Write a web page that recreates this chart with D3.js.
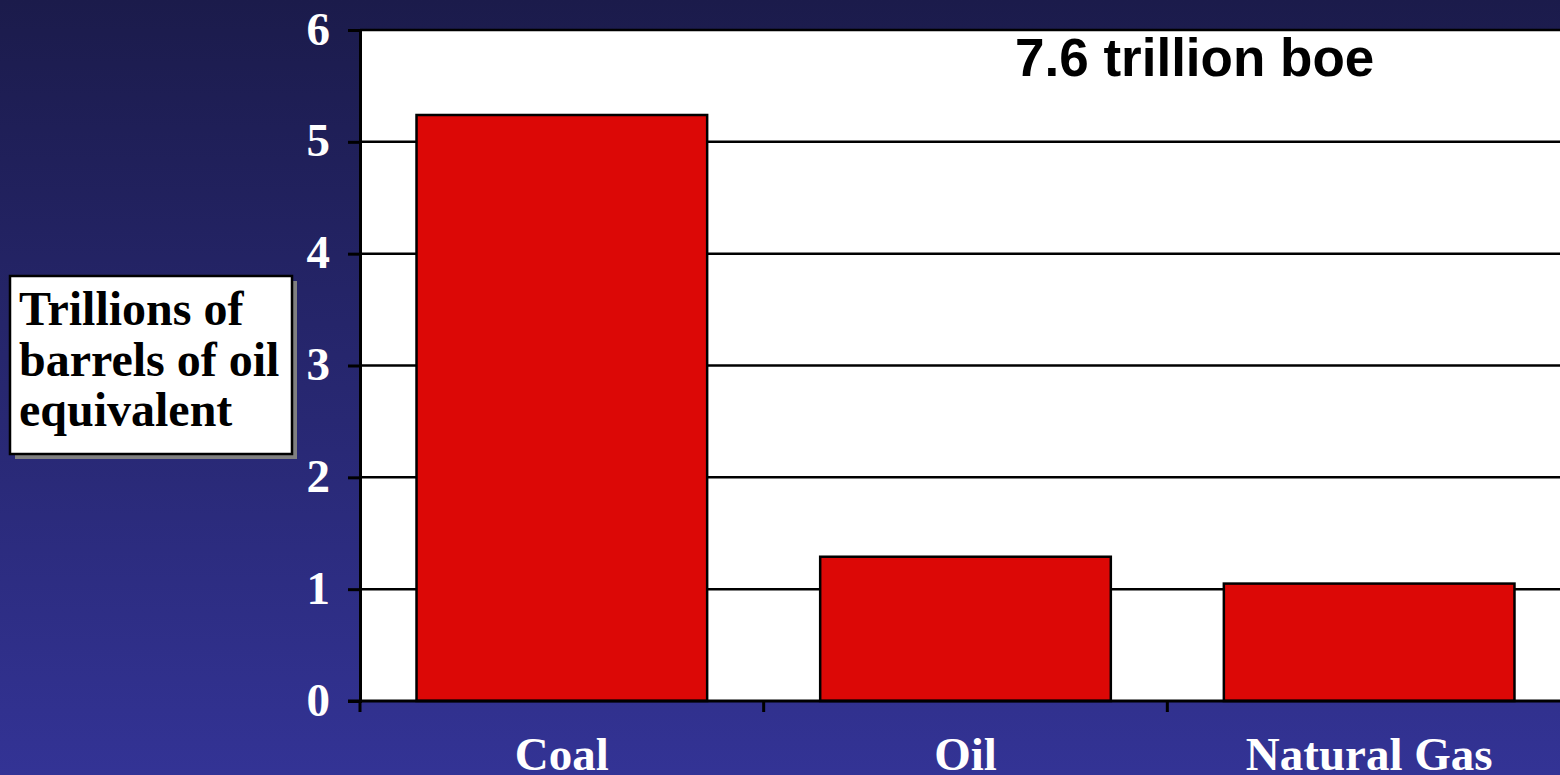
<!DOCTYPE html>
<html>
<head>
<meta charset="utf-8">
<script src="https://cdn.jsdelivr.net/npm/d3@7"></script>
<style>
  html, body { margin: 0; padding: 0; overflow: hidden; background: #262666; }
  svg { display: block; }
</style>
</head>
<body>
<svg id="chart" width="1560" height="775"></svg>
<script>
// Fossil fuel resources, trillions of barrels of oil equivalent
const categories = ["Coal", "Oil", "Natural Gas"];
const values = [5.24, 1.29, 1.05];
const yTicks = [0, 1, 2, 3, 4, 5, 6];
const unitLines = ["Trillions of", "barrels of oil", "equivalent"];
const totalNote = "7.6 trillion boe";

const svg = d3.select("#chart");
const W = 1560, H = 775;
const plot = { left: 360, right: 1571, top: 30, bottom: 701 };

// background: vertical navy-to-indigo gradient
const defs = svg.append("defs");
const grad = defs.append("linearGradient")
  .attr("id", "bg").attr("x1", 0).attr("y1", 0).attr("x2", 0).attr("y2", 1);
grad.append("stop").attr("offset", "0%").attr("stop-color", "#1b1b4b");
grad.append("stop").attr("offset", "100%").attr("stop-color", "#333395");
svg.append("rect").attr("width", W).attr("height", H).attr("fill", "url(#bg)");

const x = d3.scaleBand()
  .domain(categories)
  .range([plot.left, plot.right])
  .paddingInner(0.28)
  .paddingOuter(0.14);

const y = d3.scaleLinear()
  .domain([0, 6])
  .range([plot.bottom, plot.top]);

// plot area
svg.append("rect")
  .attr("x", plot.left).attr("y", plot.top)
  .attr("width", plot.right - plot.left).attr("height", plot.bottom - plot.top)
  .attr("fill", "#ffffff");

// horizontal gridlines
svg.append("g")
  .selectAll("line")
  .data(yTicks.filter(d => d > 0))
  .join("line")
  .attr("x1", plot.left).attr("x2", plot.right)
  .attr("y1", d => y(d)).attr("y2", d => y(d))
  .attr("stroke", "#000").attr("stroke-width", 2.5);

// bars
svg.append("g")
  .selectAll("rect")
  .data(categories.map((c, i) => ({ c, v: values[i] })))
  .join("rect")
  .attr("x", d => x(d.c))
  .attr("y", d => y(d.v))
  .attr("width", x.bandwidth())
  .attr("height", d => y(0) - y(d.v))
  .attr("fill", "#dc0806")
  .attr("stroke", "#000")
  .attr("stroke-width", 2.5);

// y axis
const yAxis = svg.append("g")
  .attr("transform", `translate(${plot.left},0)`)
  .call(d3.axisLeft(y).tickValues(yTicks).tickFormat(d3.format("d")).tickSize(12).tickPadding(18));
yAxis.select(".domain").attr("stroke", "#000").attr("stroke-width", 3);
yAxis.selectAll(".tick line").attr("stroke", "#000").attr("stroke-width", 3);
yAxis.selectAll(".tick text")
  .attr("fill", "#ffffff")
  .attr("dy", "0.3em")
  .style("font-family", "'Liberation Serif', 'Times New Roman', serif")
  .style("font-weight", "bold")
  .style("font-size", "47px");

// x axis: labels centred on bars, ticks on band boundaries
const xAxis = svg.append("g")
  .attr("transform", `translate(0,${plot.bottom})`)
  .call(d3.axisBottom(x).tickSize(0).tickPadding(0));
xAxis.select(".domain").remove();
xAxis.selectAll(".tick text")
  .attr("y", 69)
  .attr("dy", 0)
  .attr("fill", "#ffffff")
  .style("font-family", "'Liberation Serif', 'Times New Roman', serif")
  .style("font-weight", "bold")
  .style("font-size", "47px");

const boundary = d => x(d) - x.step() * x.paddingOuter();
svg.append("line")
  .attr("x1", plot.left - 12).attr("x2", plot.right)
  .attr("y1", plot.bottom).attr("y2", plot.bottom)
  .attr("stroke", "#000").attr("stroke-width", 3);
svg.append("g")
  .selectAll("line")
  .data(categories)
  .join("line")
  .attr("x1", d => boundary(d)).attr("x2", d => boundary(d))
  .attr("y1", plot.bottom).attr("y2", plot.bottom + 11)
  .attr("stroke", "#000").attr("stroke-width", 3);

// total annotation
svg.append("text")
  .attr("x", 1015).attr("y", 76)
  .attr("fill", "#000")
  .style("font-family", "'Liberation Sans', Arial, sans-serif")
  .style("font-weight", "bold")
  .style("font-size", "53px")
  .text(totalNote);

// unit label box with drop shadow
const box = { x: 10, y: 276, w: 282, h: 178 };
svg.append("rect")
  .attr("x", box.x + 5).attr("y", box.y + 5)
  .attr("width", box.w).attr("height", box.h)
  .attr("fill", "#808080");
svg.append("rect")
  .attr("x", box.x).attr("y", box.y)
  .attr("width", box.w).attr("height", box.h)
  .attr("fill", "#ffffff")
  .attr("stroke", "#000").attr("stroke-width", 2.5);
svg.append("text")
  .attr("fill", "#000")
  .style("font-family", "'Liberation Serif', 'Times New Roman', serif")
  .style("font-weight", "bold")
  .style("font-size", "48px")
  .selectAll("tspan")
  .data(unitLines)
  .join("tspan")
  .attr("x", 19)
  .attr("y", (d, i) => 325 + i * 50.5)
  .text(d => d);
</script>
</body>
</html>
